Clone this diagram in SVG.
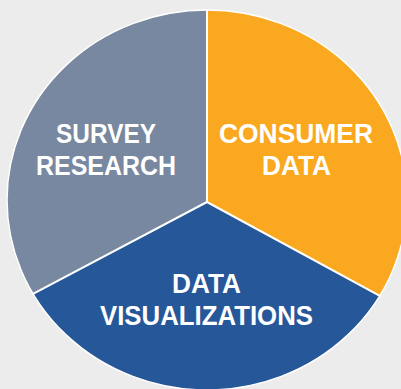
<svg xmlns="http://www.w3.org/2000/svg" width="401" height="389" viewBox="0 0 401 389">
  <style>
    .lbl { font-family: "Liberation Sans", Arial, sans-serif; font-weight: bold; font-size: 27px; fill: #ffffff; text-anchor: middle; }
    .div { stroke: #ffffff; stroke-width: 2; fill: none; }
  </style>
  <defs>
    <clipPath id="pie">
      <ellipse cx="207" cy="200" rx="200" ry="190"/>
    </clipPath>
  </defs>
  <rect x="0" y="0" width="401" height="389" fill="#ececec"/>
  <g clip-path="url(#pie)">
    <g id="survey-research">
      <polygon points="207,202 207,-50 -150,-50 -150,390.6" fill="#7888a0"/>
      <text class="lbl" x="106" y="143" textLength="100" lengthAdjust="spacingAndGlyphs">SURVEY</text>
      <text class="lbl" x="106" y="175" textLength="140" lengthAdjust="spacingAndGlyphs">RESEARCH</text>
    </g>
    <g id="consumer-data">
      <polygon points="207,202 207,-50 560,-50 560,393.8" fill="#faa81f"/>
      <text class="lbl" x="296" y="143" textLength="154" lengthAdjust="spacingAndGlyphs">CONSUMER</text>
      <text class="lbl" x="296.5" y="175" textLength="69" lengthAdjust="spacingAndGlyphs">DATA</text>
    </g>
    <g id="data-visualizations">
      <polygon points="207,202 -150,390.6 -150,500 560,500 560,393.8" fill="#255799"/>
      <text class="lbl" x="206.5" y="293" textLength="69" lengthAdjust="spacingAndGlyphs">DATA</text>
      <text class="lbl" x="206.5" y="325" textLength="213" lengthAdjust="spacingAndGlyphs">VISUALIZATIONS</text>
    </g>
    <g id="connectors">
      <line class="div" x1="207" y1="202" x2="207" y2="0"/>
      <line class="div" x1="207" y1="202" x2="-150" y2="390.6"/>
      <line class="div" x1="207" y1="202" x2="560" y2="393.8"/>
    </g>
  </g>
  <ellipse cx="207" cy="200" rx="200" ry="190" fill="none" stroke="#ffffff" stroke-width="1.5"/>
</svg>
